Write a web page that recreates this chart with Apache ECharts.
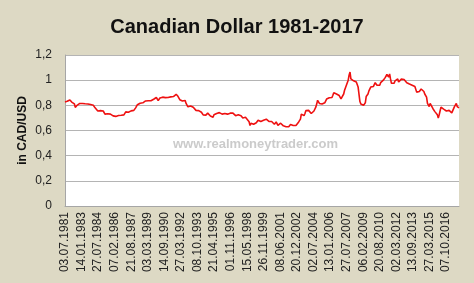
<!DOCTYPE html>
<html>
<head>
<meta charset="utf-8">
<script src="https://cdn.jsdelivr.net/npm/echarts@6/dist/echarts.min.js"></script>
<style>html,body{margin:0;padding:0;background:#ddd9c4;}#c{width:474px;height:283px;}</style>
</head>
<body>
<div id="c"></div>
<script>
// Monthly CAD/USD values, July 1981 .. December 2017
var startYear = 1981, startMonth = 6; // July 1981 (0-based month)
var values1981 = [0.826,0.815,0.832,0.833,0.845,0.843];
var values1982 = [0.838,0.826,0.818,0.815,0.812,0.784,0.790,0.800,0.810,0.815,0.815,0.808];
var values1983 = [0.815,0.815,0.815,0.813,0.813,0.813,0.812,0.811,0.811,0.811,0.806,0.803];
var values1984 = [0.802,0.800,0.785,0.780,0.772,0.765,0.755,0.768,0.762,0.758,0.758,0.757];
var values1985 = [0.755,0.745,0.730,0.732,0.730,0.733,0.740,0.738,0.730,0.732,0.728,0.716];
var values1986 = [0.707,0.703,0.712,0.720,0.727,0.719,0.723,0.720,0.721,0.720,0.722,0.724];
var values1987 = [0.728,0.748,0.753,0.751,0.745,0.748,0.752,0.756,0.758,0.762,0.760,0.766];
var values1988 = [0.780,0.790,0.805,0.810,0.809,0.817,0.828,0.815,0.820,0.830,0.815,0.835];
var values1989 = [0.842,0.840,0.837,0.843,0.838,0.836,0.841,0.847,0.848,0.852,0.857,0.862];
var values1990 = [0.865,0.838,0.845,0.858,0.852,0.853,0.865,0.873,0.865,0.861,0.859,0.862];
var values1991 = [0.862,0.866,0.864,0.867,0.870,0.875,0.870,0.873,0.880,0.888,0.885,0.872];
var values1992 = [0.862,0.845,0.840,0.842,0.834,0.836,0.840,0.838,0.815,0.800,0.788,0.787];
var values1993 = [0.788,0.795,0.798,0.790,0.785,0.782,0.778,0.760,0.758,0.756,0.758,0.752];
var values1994 = [0.756,0.745,0.730,0.724,0.722,0.720,0.722,0.728,0.738,0.742,0.732,0.715];
var values1995 = [0.710,0.715,0.705,0.725,0.735,0.730,0.735,0.745,0.742,0.742,0.735,0.732];
var values1996 = [0.730,0.728,0.733,0.735,0.730,0.733,0.730,0.730,0.732,0.738,0.745,0.732];
var values1997 = [0.738,0.735,0.728,0.718,0.726,0.722,0.725,0.718,0.722,0.718,0.708,0.700];
var values1998 = [0.695,0.700,0.705,0.698,0.688,0.680,0.670,0.640,0.658,0.650,0.650,0.650];
var values1999 = [0.655,0.665,0.662,0.672,0.682,0.680,0.668,0.672,0.678,0.680,0.682,0.688];
var values2000 = [0.690,0.690,0.688,0.680,0.672,0.678,0.676,0.672,0.668,0.660,0.650,0.660];
var values2001 = [0.668,0.658,0.640,0.643,0.648,0.658,0.652,0.648,0.637,0.635,0.627,0.630];
var values2002 = [0.622,0.627,0.630,0.638,0.648,0.658,0.640,0.640,0.632,0.638,0.640,0.645];
var values2003 = [0.655,0.668,0.680,0.690,0.730,0.740,0.720,0.718,0.735,0.758,0.765,0.770];
var values2004 = [0.760,0.750,0.760,0.735,0.730,0.745,0.755,0.765,0.785,0.810,0.840,0.825];
var values2005 = [0.815,0.805,0.825,0.810,0.795,0.805,0.820,0.830,0.850,0.850,0.850,0.860];
var values2006 = [0.865,0.870,0.862,0.880,0.900,0.895,0.885,0.890,0.895,0.890,0.878,0.865];
var values2007 = [0.852,0.860,0.865,0.890,0.920,0.940,0.950,0.945,1.000,1.040,1.065,1.010];
var values2008 = [0.995,1.005,0.995,0.990,1.005,0.985,0.985,0.945,0.945,0.830,0.810,0.815];
var values2009 = [0.810,0.800,0.785,0.820,0.870,0.880,0.890,0.915,0.930,0.945,0.945,0.955];
var values2010 = [0.950,0.950,0.980,0.990,0.960,0.965,0.955,0.960,0.980,0.985,0.990,1.000];
var values2011 = [1.005,1.020,1.030,1.045,1.030,1.025,1.050,1.010,0.975,0.975,0.980,0.975];
var values2012 = [0.995,1.005,1.005,1.010,0.985,0.975,0.985,1.008,1.020,1.010,1.005,1.012];
var values2013 = [1.000,0.980,0.975,0.985,0.970,0.960,0.965,0.960,0.970,0.965,0.950,0.940];
var values2014 = [0.905,0.900,0.895,0.910,0.920,0.930,0.935,0.915,0.910,0.890,0.880,0.865];
var values2015 = [0.815,0.800,0.790,0.815,0.815,0.810,0.775,0.760,0.752,0.765,0.750,0.725];
var values2016 = [0.700,0.725,0.755,0.785,0.770,0.775,0.770,0.765,0.760,0.755,0.740,0.745];
var values2017 = [0.760,0.765,0.750,0.740,0.735,0.755,0.790,0.795,0.815,0.790,0.785,0.780];

var tickLabels = ["03.07.1981","14.01.1983","27.07.1984","07.02.1986","21.08.1987","03.03.1989",
  "14.09.1990","27.03.1992","08.10.1993","21.04.1995","01.11.1996","15.05.1998","26.11.1999",
  "08.06.2001","20.12.2002","02.07.2004","13.01.2006","27.07.2007","06.02.2009","20.08.2010",
  "02.03.2012","13.09.2013","27.03.2015","07.10.2016"];
var tickStepDays = 560;
var yTicks = [0,0.2,0.4,0.6,0.8,1,1.2];

var allValues = [].concat(values1981,values1982,values1983,values1984,values1985,values1986,values1987,
  values1988,values1989,values1990,values1991,values1992,values1993,values1994,values1995,values1996,
  values1997,values1998,values1999,values2000,values2001,values2002,values2003,values2004,values2005,
  values2006,values2007,values2008,values2009,values2010,values2011,values2012,values2013,values2014,
  values2015,values2016,values2017);

var origin = Date.UTC(1981,6,3);
var DAY = 86400000;
var seriesData = allValues.map(function(v,i){
  var d = (i === 0) ? origin : Date.UTC(startYear, startMonth + i, 15);
  return [(d - origin)/DAY, v];
});
var lastDay = seriesData[seriesData.length-1][0];

var chart = echarts.init(document.getElementById('c'));
chart.setOption({
  backgroundColor: '#ddd9c4',
  animation: false,
  title: {
    text: 'Canadian Dollar 1981-2017',
    left: 'center', top: 12,
    textStyle: {fontFamily: 'Liberation Sans', fontSize: 20, fontWeight: 'bold', color: '#111'}
  },
  grid: {left: 65, right: 15, top: 55, bottom: 77, show: true, backgroundColor: '#ffffff', borderWidth: 0},
  xAxis: {
    type: 'value', min: 0, max: lastDay, interval: tickStepDays,
    splitLine: {show: false},
    axisLine: {show: true, lineStyle: {color: '#a6a6a6'}},
    axisTick: {show: false},
    axisLabel: {
      rotate: 90, margin: 6, showMaxLabel: false,
      fontFamily: 'Liberation Sans', fontSize: 12, color: '#222',
      formatter: function(v){ var k = Math.round(v / tickStepDays); return tickLabels[k] || ''; }
    }
  },
  yAxis: {
    type: 'value', min: yTicks[0], max: yTicks[yTicks.length-1], interval: 0.2,
    name: 'in CAD/USD', nameLocation: 'middle', nameGap: 36, nameMoveOverlap: false,
    nameTextStyle: {fontFamily: 'Liberation Sans', fontSize: 12, fontWeight: 'bold', color: '#111'},
    axisLine: {show: true, lineStyle: {color: '#a6a6a6'}},
    axisTick: {show: false},
    splitLine: {lineStyle: {color: '#b4b4b4', width: 1}},
    axisLabel: {
      margin: 13, fontFamily: 'Liberation Sans', fontSize: 12, color: '#222',
      formatter: function(v){ return String(+v.toFixed(1)).replace('.', ','); }
    }
  },
  graphic: [{
    type: 'text', left: 173, top: 138, z: 1,
    style: {text: 'www.realmoneytrader.com', fill: '#cbcbcb', font: 'bold 13px "Liberation Sans"'}
  }],
  series: [{
    type: 'line', data: seriesData, showSymbol: false, z: 5,
    lineStyle: {color: '#ee1111', width: 1.6}
  }]
});
</script>
</body>
</html>
